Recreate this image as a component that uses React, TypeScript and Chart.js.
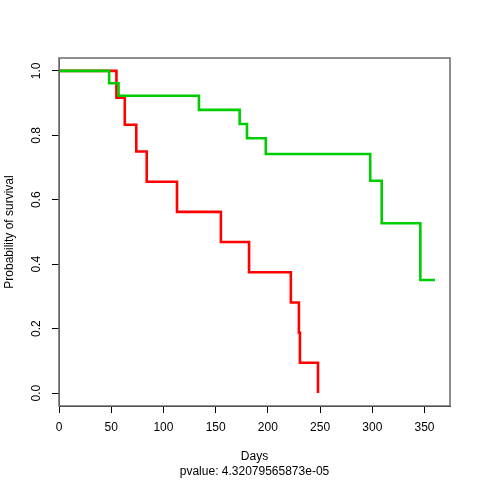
import React, { useEffect, useRef } from "react";
import { Chart, registerables } from "chart.js";

Chart.register(...registerables);

// Kaplan-Meier step data (time in days, survival probability)
const greenTimes = [0, 48, 57, 134, 173, 180, 198, 298, 309, 346, 360];
const greenSurv = [1, 0.9615, 0.923, 0.879, 0.835, 0.791, 0.742, 0.659, 0.527, 0.351, 0.351];

const redTimes = [0, 55, 63, 74, 84, 113, 155, 182, 222, 229.7, 230.7, 248];
const redSurv = [1, 0.917, 0.833, 0.75, 0.656, 0.5625, 0.469, 0.375, 0.281, 0.1875, 0.094, 0];

const xTicks = [0, 50, 100, 150, 200, 250, 300, 350];
const yTicks = [0, 0.2, 0.4, 0.6, 0.8, 1.0];

const xTitle = "Days";
const subTitle = "pvalue: 4.32079565873e-05";
const yTitle = "Probability of survival";

const FONT = "'Liberation Sans', Arial, Helvetica, sans-serif";

const boxPlugin = {
  id: "rbox",
  afterDraw(chart: any) {
    const { ctx, chartArea } = chart;
    ctx.save();
    ctx.strokeStyle = "#6a6a6a";
    ctx.lineWidth = 1.5;
    ctx.strokeRect(chartArea.left, chartArea.top, chartArea.right - chartArea.left, chartArea.bottom - chartArea.top);
    ctx.restore();
  },
};

export default function App() {
  const ref = useRef<HTMLCanvasElement | null>(null);

  useEffect(() => {
    document.body.style.margin = "0";
    const canvas = ref.current;
    if (!canvas) return;
    const chart = new Chart(canvas, {
      type: "line",
      data: {
        datasets: [
          {
            label: "green",
            data: greenTimes.map((t, i) => ({ x: t, y: greenSurv[i] })),
            borderColor: "#00CD00",
            borderWidth: 2.6,
            pointRadius: 0,
            stepped: "before",
            fill: false,
          },
          {
            label: "red",
            data: redTimes.map((t, i) => ({ x: t, y: redSurv[i] })),
            borderColor: "#FF0000",
            borderWidth: 2.6,
            pointRadius: 0,
            stepped: "before",
            fill: false,
          },
        ],
      },
      options: {
        animation: false,
        responsive: false,
        maintainAspectRatio: false,
        layout: { padding: { left: 0, top: 58, right: 30, bottom: 0 } },
        plugins: {
          legend: { display: false },
          tooltip: { enabled: false },
        },
        scales: {
          x: {
            type: "linear",
            min: 0,
            max: 374.4,
            afterFit: (s: any) => {
              s.height = 74;
            },
            afterBuildTicks: (s: any) => {
              s.ticks = xTicks.map((v) => ({ value: v }));
            },
            grid: { drawOnChartArea: false, drawTicks: true, tickLength: 7, color: "#000" },
            border: { display: true, color: "#000", width: 1 },
            ticks: {
              color: "#000",
              font: { family: FONT, size: 12 },
              padding: 7,
              maxRotation: 0,
              autoSkip: false,
              callback: (v: any) => String(v),
            },
            title: {
              display: true,
              text: [xTitle, subTitle],
              color: "#000",
              font: { family: FONT, size: 12, lineHeight: 1.25 },
              padding: { top: 0, bottom: 1 },
            },
          },
          y: {
            type: "linear",
            min: -0.04,
            max: 1.04,
            afterFit: (s: any) => {
              s.width = 59;
            },
            afterBuildTicks: (s: any) => {
              s.ticks = yTicks.map((v) => ({ value: v }));
            },
            grid: { drawOnChartArea: false, drawTicks: true, tickLength: 7, color: "#000" },
            border: { display: true, color: "#555", width: 1 },
            ticks: {
              color: "#000",
              font: { family: FONT, size: 12 },
              padding: 7,
              minRotation: 90,
              maxRotation: 90,
              crossAlign: "center",
              autoSkip: false,
              callback: (v: any) => Number(v).toFixed(1),
            },
            title: {
              display: true,
              text: yTitle,
              color: "#000",
              font: { family: FONT, size: 12 },
              padding: { top: 2, bottom: 0 },
            },
          },
        },
      },
      plugins: [boxPlugin],
    });
    return () => chart.destroy();
  }, []);

  return (
    <div style={{ width: 480, height: 480, background: "#fff" }}>
      <canvas ref={ref} width={480} height={480} />
    </div>
  );
}
